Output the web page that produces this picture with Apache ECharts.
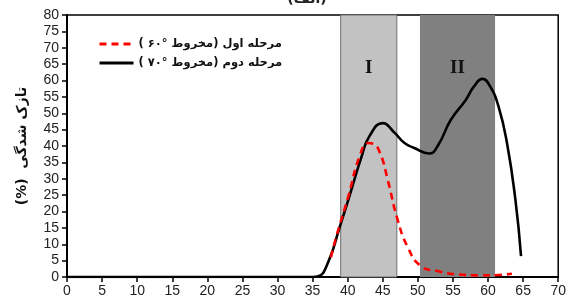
<!DOCTYPE html>
<html>
<head>
<meta charset="utf-8">
<script src="https://cdn.jsdelivr.net/npm/echarts@6/dist/echarts.min.js"></script>
<style>
  html, body { margin: 0; padding: 0; background: #fff; }
  #panel { width: 569px; height: 303px; }
</style>
</head>
<body>
<div id="panel" dir="rtl"></div>
<script>
// داده‌ها
var xTicks = [0, 70, 5];
var yTicks = [0, 80, 5];
var seriesNames = ['مرحله اول (مخروط °۶۰ )', 'مرحله دوم (مخروط °۷۰ )'];

var stage1X = [37.6, 38.4, 40.1, 41.7, 42.9, 43.6, 44.6, 45.7, 47.1, 48.6, 50.4, 52.8, 55.6, 58.9, 61.5, 63.4];
var stage1Y = [6.0, 12.5, 24.7, 36.9, 40.9, 40.7, 37.9, 29.7, 17.6, 8.9, 3.4, 1.8, 0.8, 0.5, 0.6, 1.0];

var stage2X = [0, 10, 20, 30, 35, 35.8, 37.2, 38.9, 40.1, 42.0, 43.1, 45.0, 46.7, 48.1, 49.5, 51.6, 52.8, 54.7, 56.8, 58.0, 59.2, 60.3, 61.5, 62.7, 63.9, 64.7];
var stage2Y = [0, 0, 0, 0, 0, 0.2, 4.4, 15.5, 23.6, 36.9, 43.0, 47.0, 44.0, 40.9, 39.4, 37.7, 39.9, 48.0, 54.0, 58.2, 60.5, 58.2, 52.0, 40.9, 23.6, 6.4];

var bandI = [39.0, 47.0];
var bandII = [50.3, 61.0];
var bandLabels = ['I', 'II'];

function pairs(xs, ys) {
    return xs.map(function (x, i) { return [x, ys[i]]; });
}

var chartDom = document.getElementById('panel');
var myChart = echarts.init(chartDom);

var axisText = { fontFamily: 'Liberation Sans', fontSize: 14, color: '#222' };
var bandLabel = {
    show: true, position: 'insideTop', distance: 44,
    fontFamily: 'Liberation Serif', fontWeight: 'bold', fontSize: 19, color: '#111'
};

var option = {
    animation: false,
    title: {
        text: '(الف)', left: 302, top: -13, textAlign: 'center',
        textStyle: { fontFamily: 'DejaVu Sans', fontSize: 14, fontWeight: 'bold', color: '#222' }
    },
    legend: {
        orient: 'vertical', left: 93, top: 33,
        itemWidth: 34, itemHeight: 14, itemGap: 7,
        data: seriesNames,
        itemStyle: { opacity: 0 },
        lineStyle: { width: 3 },
        textStyle: { fontFamily: 'DejaVu Sans', fontSize: 11.5, fontWeight: 'bold', color: '#111' }
    },
    grid: {
        left: 67, right: 7, top: 15, bottom: 26,
        show: true, borderColor: '#000', borderWidth: 1.5
    },
    xAxis: {
        type: 'value', min: xTicks[0], max: xTicks[1], interval: xTicks[2],
        axisLine: { lineStyle: { color: '#000', width: 2 } },
        axisTick: { length: 5, lineStyle: { color: '#000', width: 1.5 } },
        axisLabel: Object.assign({ margin: 7 }, axisText),
        splitLine: { show: false }
    },
    yAxis: {
        type: 'value', min: yTicks[0], max: yTicks[1], interval: yTicks[2],
        name: 'تازک شدگی  (%)', nameLocation: 'middle', nameGap: 38, nameRotate: 90,
        nameTextStyle: { fontFamily: 'DejaVu Sans', fontSize: 14, fontWeight: 'bold', color: '#111' },
        axisLine: { lineStyle: { color: '#000', width: 2 } },
        axisTick: { length: 5, lineStyle: { color: '#000', width: 1.5 } },
        axisLabel: Object.assign({ margin: 8 }, axisText),
        splitLine: { show: false }
    },
    series: [
        {
            name: seriesNames[1], type: 'line', z: 3,
            data: pairs(stage2X, stage2Y),
            smooth: 0.5, showSymbol: false, symbol: 'none',
            lineStyle: { color: '#000', width: 2.6 },
            itemStyle: { color: '#000' },
            markArea: {
                silent: true,
                data: [
                    [{ xAxis: bandI[0], itemStyle: { color: '#c2c2c2', borderColor: '#6e6e6e', borderWidth: 1 }, label: Object.assign({}, bandLabel, { formatter: bandLabels[0] }) }, { xAxis: bandI[1] }],
                    [{ xAxis: bandII[0], itemStyle: { color: '#808080' }, label: Object.assign({}, bandLabel, { formatter: bandLabels[1] }) }, { xAxis: bandII[1] }]
                ]
            }
        },
        {
            name: seriesNames[0], type: 'line', z: 4,
            data: pairs(stage1X, stage1Y),
            smooth: 0.5, showSymbol: false, symbol: 'none',
            lineStyle: { color: '#ff0000', width: 2.6, type: [7, 5] },
            itemStyle: { color: '#ff0000' }
        }
    ]
};
myChart.setOption(option);
</script>
</body>
</html>
